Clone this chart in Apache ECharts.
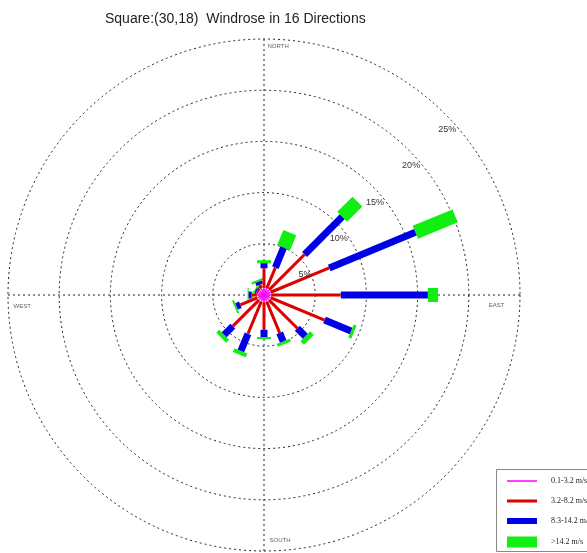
<!DOCTYPE html>
<html>
<head>
<meta charset="utf-8">
<title>Windrose in 16 Directions</title>
<script src="https://cdn.jsdelivr.net/npm/echarts@6/dist/echarts.min.js"></script>
<style>
  html, body { margin: 0; padding: 0; background: #fff; }
  #chart { width: 587px; height: 553px; }
</style>
</head>
<body>
<div id="chart"></div>
<script>
// compass directions, clockwise from north
var directions = ['N', 'NNE', 'NE', 'ENE', 'E', 'ESE', 'SE', 'SSE', 'S', 'SSW', 'SW', 'WSW', 'W', 'WNW', 'NW', 'NNW'];
var angles = [0, 22.5, 45, 67.5, 90, 112.5, 135, 157.5, 180, 202.5, 225, 247.5, 270, 292.5, 315, 337.5];

// frequency (%) of each speed class per direction
var calm   = [0.7, 0.7, 0.7, 0.7, 0.7, 0.7, 0.7, 0.7, 0.7, 0.7, 0.7, 0.7, 0.7, 0.6, 0.6, 0.7];
var light  = [1.9, 2.2, 4.9, 6.2, 6.8, 5.7, 3.9, 3.3, 2.7, 3.4, 3.6, 1.8, 0.5, 0.2, 0.2, 0.4];
var medium = [0.5, 2.1, 5.2, 9.1, 8.5, 2.8, 1.1, 0.9, 0.7, 1.8, 1.2, 0.4, 0.3, 0.1, 0.1, 0.3];
var strong = [0.3, 1.6, 2.1, 4.2, 1.0, 0.3, 0.5, 0.3, 0.2, 0.4, 0.4, 0.2, 0.1, 0.1, 0.1, 0.2];

var classNames = ['0.1-3.2 m/s', '3.2-8.2 m/s', '8.3-14.2 m/s', '>14.2 m/s'];
var ringLabels = ['5%', '10%', '15%', '20%', '25%'];
var compassNames = ['NORTH', 'EAST', 'SOUTH', 'WEST'];
var compassAngles = [0, 90, 180, 270];

var classes = [calm, light, medium, strong];
var colors = ['#ff00ff', '#dd0000', '#0000e6', '#11ee11'];
var widths = [1.5, 3, 7, 14];
var legendThick = [1.5, 3, 6, 11];
var legendY = [482, 502, 522, 542];

var CX = 264, CY = 295, R = 256;
var grid = { color: '#222', type: [2, 3], width: 1 };

// stack the classes outward from the centre: [end, angle, start]
function stacked(k) {
  return angles.map(function (a, i) {
    var start = 0;
    for (var j = 0; j < k; j++) start += classes[j][i];
    return [start + classes[k][i], a, start];
  });
}

function spoke(width) {
  return function (params, api) {
    var a = api.value(1);
    var p0 = api.coord([api.value(2), a]);
    var p1 = api.coord([api.value(0), a]);
    return {
      type: 'line',
      shape: { x1: p0[0], y1: p0[1], x2: p1[0], y2: p1[1] },
      style: { stroke: api.visual('color'), lineWidth: width, lineCap: 'butt' }
    };
  };
}

var compassLabel = [
  { position: [4, 5], align: 'left', verticalAlign: 'top' },
  { position: [-15, 8], align: 'right', verticalAlign: 'top' },
  { position: [6, -10], align: 'left', verticalAlign: 'middle' },
  { position: [6, 12], align: 'left', verticalAlign: 'middle' }
];

var series = classNames.map(function (name, k) {
  return {
    name: name,
    type: 'custom',
    coordinateSystem: 'polar',
    polarIndex: 0,
    z: 6 - k,
    silent: true,
    itemStyle: { color: colors[k] },
    renderItem: spoke(widths[k]),
    data: stacked(k)
  };
});
series.push({
  type: 'scatter',
  coordinateSystem: 'polar',
  polarIndex: 0,
  symbolSize: 1,
  silent: true,
  itemStyle: { color: 'transparent' },
  label: { show: true, formatter: '{b}', fontSize: 6, color: '#333', fontFamily: 'Liberation Sans' },
  data: compassNames.map(function (n, i) {
    return { name: n, value: [25, compassAngles[i]], label: compassLabel[i] };
  })
});

var chart = echarts.init(document.getElementById('chart'));
chart.setOption({
  animation: false,
  backgroundColor: '#fff',
  title: {
    text: 'Square:(30,18)  Windrose in 16 Directions',
    left: 100, top: 7,
    textStyle: { fontFamily: 'Liberation Sans', fontSize: 14, fontWeight: 'normal', color: '#222' }
  },
  polar: [
    { center: [CX, CY], radius: R },
    { center: [CX, CY], radius: R }
  ],
  angleAxis: [
    {
      polarIndex: 0, type: 'value', min: 0, max: 360, interval: 90,
      startAngle: 90, clockwise: true,
      axisLine: { show: false }, axisTick: { show: false }, axisLabel: { show: false },
      splitLine: { show: true, lineStyle: grid }
    },
    { polarIndex: 1, type: 'value', min: 0, max: 360, startAngle: 45, show: false }
  ],
  radiusAxis: [
    {
      polarIndex: 0, type: 'value', min: 0, max: 25, interval: 5,
      axisLine: { show: false }, axisTick: { show: false }, axisLabel: { show: false },
      splitLine: { show: true, lineStyle: grid }
    },
    {
      polarIndex: 1, type: 'value', min: 0, max: 25, interval: 5, z: 10,
      axisLine: { show: false }, axisTick: { show: false }, splitLine: { show: false },
      axisLabel: {
        showMinLabel: false,
        formatter: function (v) { return ringLabels[v / 5 - 1]; },
        margin: -16, align: 'right', verticalAlign: 'top',
        fontSize: 9, color: '#333', fontFamily: 'Liberation Sans'
      }
    }
  ],
  legend: classNames.map(function (name, i) {
    return {
      data: [name],
      left: 507,
      top: legendY[i] - Math.max(legendThick[i], 10) / 2,
      padding: 0,
      icon: 'rect',
      itemWidth: 30,
      itemHeight: legendThick[i],
      selectedMode: false,
      textStyle: { fontFamily: 'Liberation Serif', fontSize: 8, color: '#222', padding: [0, 0, 0, 9] }
    };
  }),
  graphic: [{
    type: 'rect', left: 496, top: 469,
    shape: { width: 100, height: 82 },
    style: { fill: 'transparent', stroke: '#888', lineWidth: 1 }
  }],
  series: series
});
</script>
</body>
</html>
